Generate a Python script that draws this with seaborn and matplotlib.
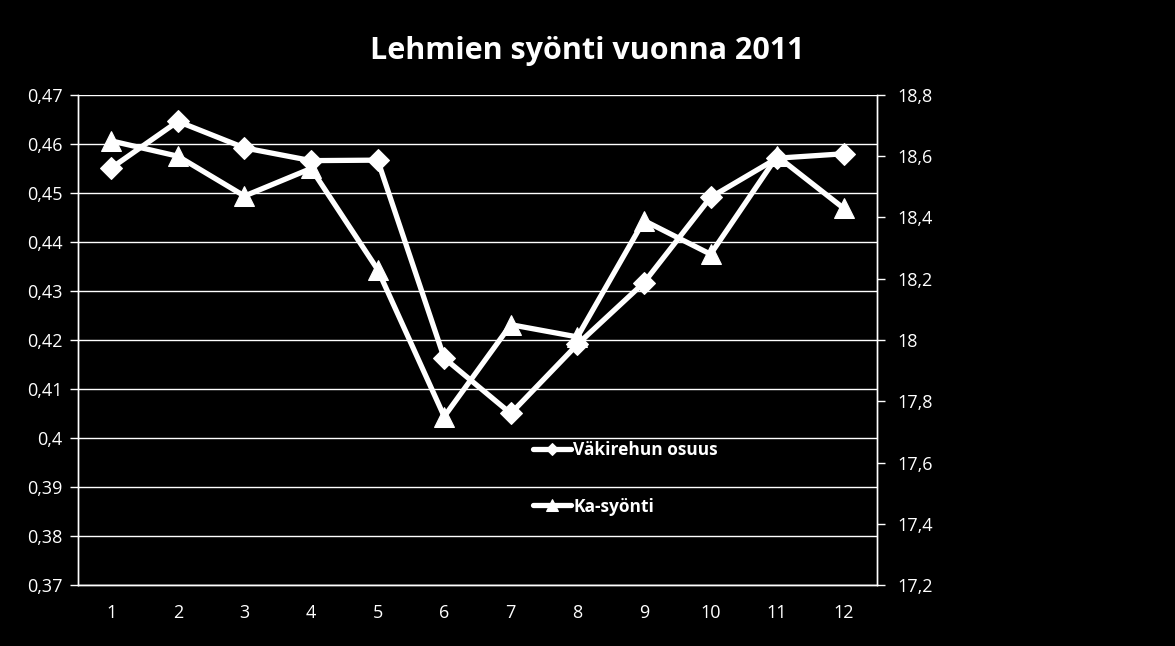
import numpy as np
import pandas as pd
import seaborn as sns
import matplotlib.pyplot as plt
from matplotlib.ticker import FuncFormatter, FixedLocator

# data
months = list(range(1, 13))
vakirehu = [0.4551, 0.4646, 0.4592, 0.4566, 0.4567, 0.4163,
            0.4050, 0.4191, 0.4317, 0.4491, 0.4571, 0.4580]
ka_syonti = [18.65, 18.60, 18.47, 18.56, 18.23, 17.75,
             18.05, 18.01, 18.39, 18.28, 18.60, 18.43]

df = pd.DataFrame({'kk': months, 'Väkirehun osuus': vakirehu, 'Ka-syönti': ka_syonti})

sns.set_style("dark")
plt.rcParams['font.family'] = ['Open Sans', 'DejaVu Sans']

fig = plt.figure(figsize=(11.75, 6.46), dpi=100, facecolor='black')
ax = fig.add_axes([0.0664, 0.0944, 0.68, 0.7586])
ax.set_facecolor('black')
ax2 = ax.twinx()

sns.lineplot(data=df, x='kk', y='Väkirehun osuus', ax=ax, color='white', lw=3.8,
             marker='D', markersize=11, markeredgecolor='white', label='Väkirehun osuus',
             legend=False)
sns.lineplot(data=df, x='kk', y='Ka-syönti', ax=ax2, color='white', lw=3.8,
             marker='^', markersize=15, markeredgecolor='white', label='Ka-syönti',
             legend=False)

comma = FuncFormatter(lambda v, p: f"{round(v, 4):g}".replace('.', ','))

ax.set_ylim(0.37, 0.47)
ax.set_yticks(np.round(np.arange(0.37, 0.4701, 0.01), 2))
ax.yaxis.set_major_formatter(comma)
ax2.set_ylim(17.2, 18.8)
ax2.set_yticks(np.round(np.arange(17.2, 18.801, 0.2), 1))
ax2.yaxis.set_major_formatter(comma)

ax.set_xlim(0.5, 12.5)
ax.set_xticks(months)
ax.xaxis.set_minor_locator(FixedLocator(np.arange(0.5, 12.6, 1)))
ax.tick_params(axis='x', which='major', length=0, colors='white', labelsize=13, pad=14)
ax.tick_params(axis='x', which='minor', length=6, color='white', width=1, direction='out')
ax.tick_params(axis='y', length=6, color='white', width=1, direction='out',
               labelcolor='white', labelsize=13, pad=5)
ax2.tick_params(axis='y', length=6, color='white', width=1, direction='out',
                labelcolor='white', labelsize=13, pad=9)

ax.grid(axis='y', color='white', lw=1)
ax.grid(axis='x', visible=False)
ax2.grid(False)
ax.set_xlabel('')
ax.set_ylabel('')
ax2.set_ylabel('')

for a in (ax, ax2):
    for side in ('left', 'right', 'bottom'):
        a.spines[side].set_visible(True)
        a.spines[side].set_color('white')
        a.spines[side].set_linewidth(1)
    a.spines['top'].set_visible(False)

h1, l1 = ax.get_legend_handles_labels()
h2, l2 = ax2.get_legend_handles_labels()
leg = ax2.legend(h1 + h2, l1 + l2, loc='upper left', bbox_to_anchor=(0.55, 0.325),
                 frameon=False, labelspacing=2.2, handlelength=2.2, handletextpad=0.1,
                 prop={'weight': 'bold', 'size': 12.5}, markerscale=0.6)
for t in leg.get_texts():
    t.set_color('white')

fig.suptitle('Lehmien syönti vuonna 2011', x=0.5, y=0.945, color='white',
             fontsize=22, fontweight='bold')

plt.savefig('out.png', dpi=100, facecolor='black')
